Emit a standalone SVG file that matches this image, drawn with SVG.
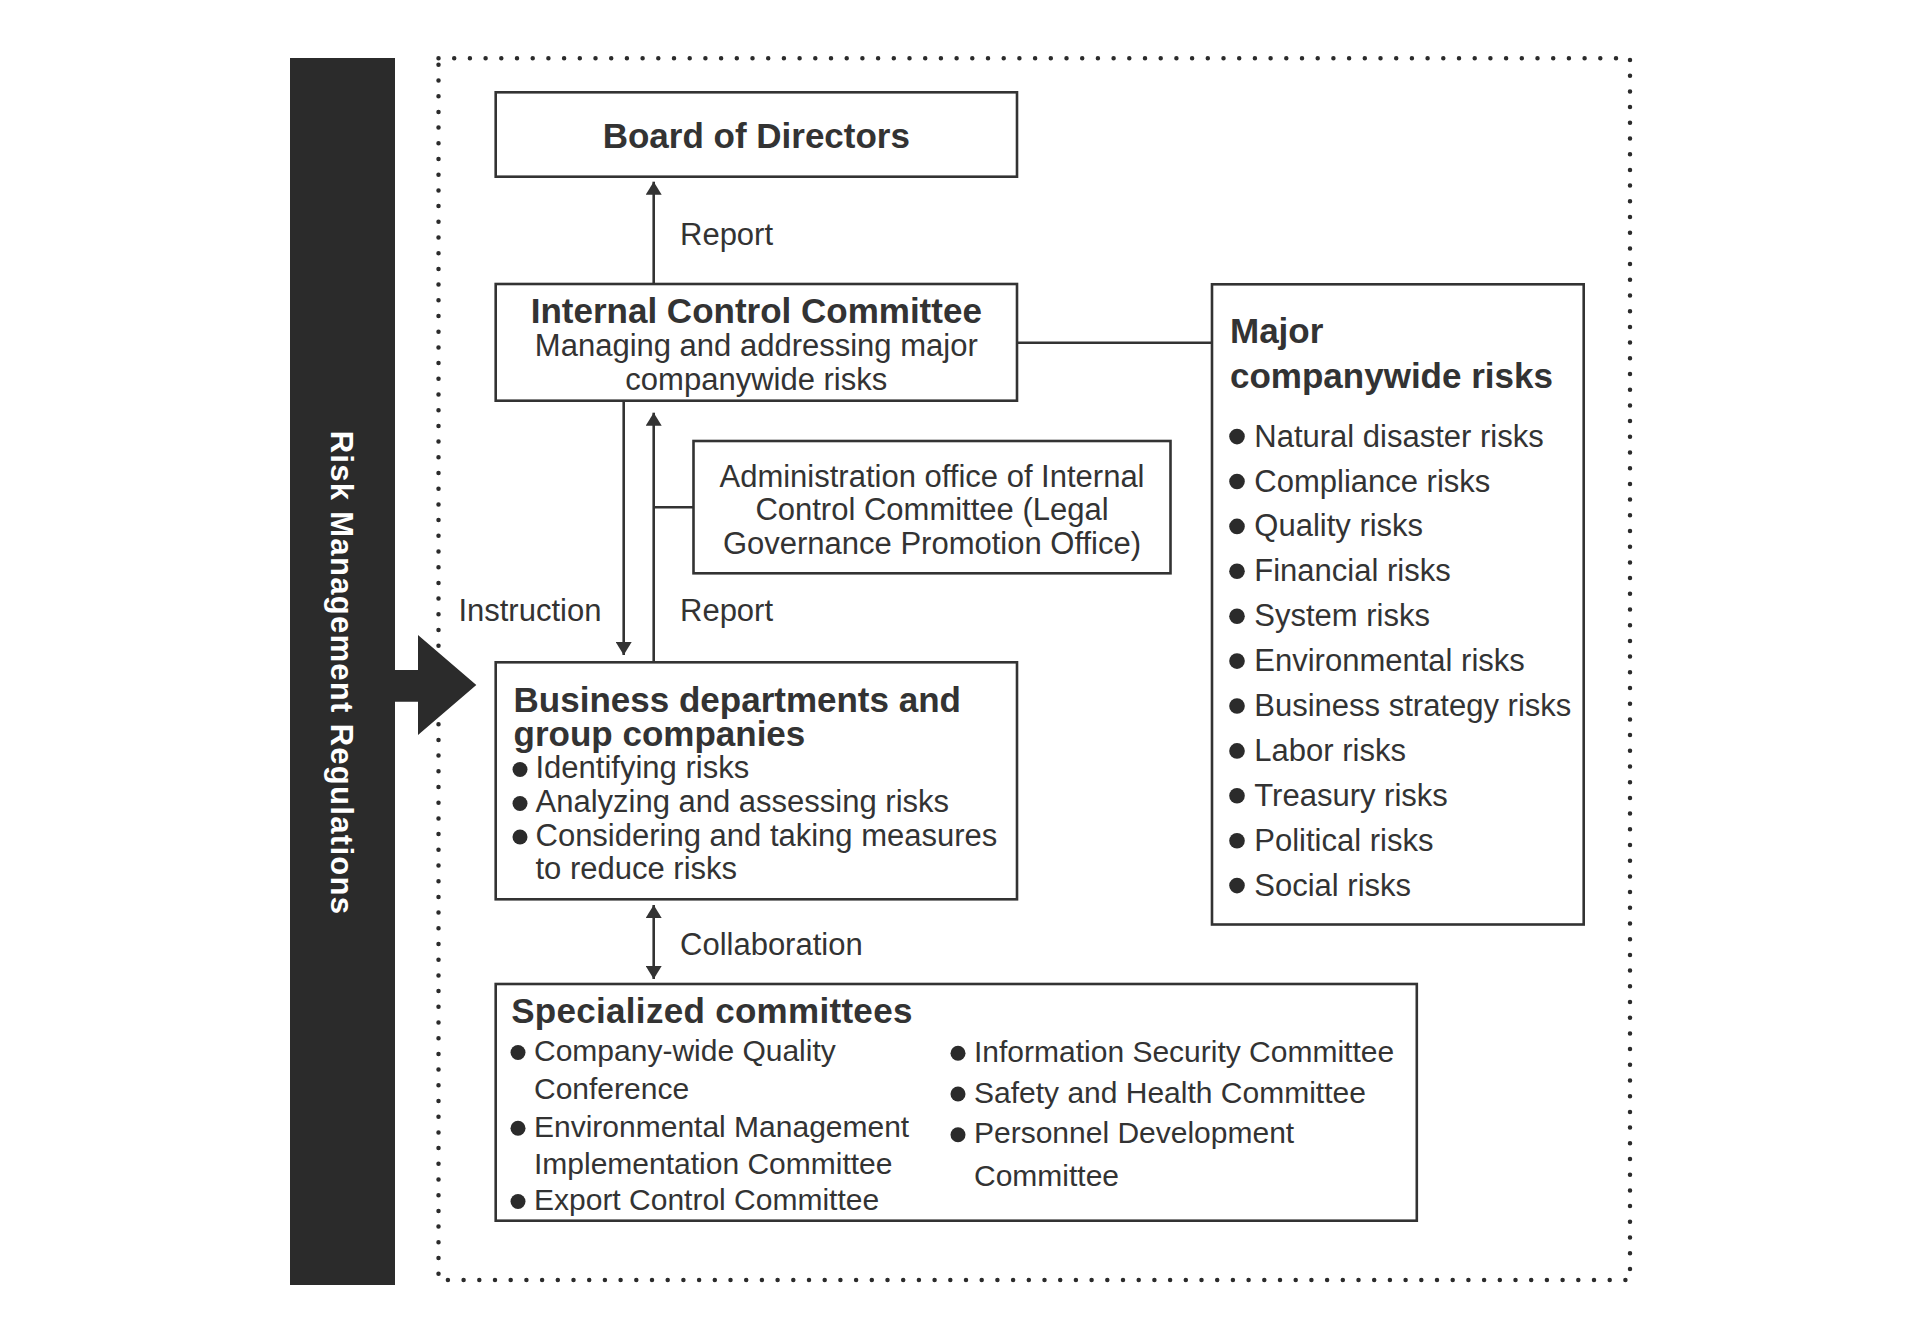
<svg xmlns="http://www.w3.org/2000/svg" width="1920" height="1342" viewBox="0 0 1920 1342">
<defs>
<style>
.box{fill:#fff;stroke:#333;stroke-width:2.6}
.ln{fill:none;stroke:#333;stroke-width:2.6}
.t{font-family:"Liberation Sans",Arial,sans-serif;font-size:31px;fill:#333}
.s{font-size:30px}
.b{font-family:"Liberation Sans",Arial,sans-serif;font-size:35px;font-weight:bold;fill:#333}
.c{text-anchor:middle}
.dot{fill:#2b2b2b}
</style>
<marker id="ah" markerUnits="userSpaceOnUse" markerWidth="14" markerHeight="16" refX="13" refY="8" orient="auto-start-reverse" viewBox="0 0 14 16">
<path d="M0,0 L13,8 L0,16 z" fill="#333"/>
</marker>
</defs>
<rect width="1920" height="1342" fill="#fff"/>
<g id="frame">
<rect x="438.5" y="58.3" width="1191.5" height="1221.7" fill="none" stroke="#2b2b2b" stroke-width="4.5" stroke-linecap="round" stroke-dasharray="0 15.7"/>
</g>
<g id="regulations">
<rect x="290" y="58" width="105" height="1227" fill="#2b2b2b"/>
<polygon points="394,670 418,670 418,635 476.3,685 418,735 418,701.7 394,701.7" fill="#2b2b2b"/>
<text class="b" x="0" y="0" transform="translate(341.6,673) rotate(90)" text-anchor="middle" dominant-baseline="central" style="fill:#fff;font-size:31px;letter-spacing:1.3px">Risk Management Regulations</text>
</g>
<g id="connectors">
<line class="ln" x1="653.7" y1="284" x2="653.7" y2="181.7" marker-end="url(#ah)"/>
<line class="ln" x1="623.7" y1="400.7" x2="623.7" y2="655" marker-end="url(#ah)"/>
<line class="ln" x1="653.7" y1="662.3" x2="653.7" y2="412.7" marker-end="url(#ah)"/>
<line class="ln" x1="653.7" y1="507.3" x2="693.5" y2="507.3"/>
<line class="ln" x1="653.7" y1="905" x2="653.7" y2="979" marker-start="url(#ah)" marker-end="url(#ah)"/>
<line class="ln" x1="1017" y1="342.7" x2="1212" y2="342.7"/>
<text class="t" x="680" y="245">Report</text>
<text class="t" x="458.4" y="620.7">Instruction</text>
<text class="t" x="680" y="620.7">Report</text>
<text class="t" x="680" y="955">Collaboration</text>
</g>
<g id="board">
<rect class="box" x="495.7" y="92.3" width="521.3" height="84.4"/>
<text class="b c" x="756.3" y="147.5">Board of Directors</text>
</g>
<g id="icc">
<rect class="box" x="495.7" y="284" width="521.3" height="116.7"/>
<text class="b c" x="756.3" y="323">Internal Control Committee</text>
<text class="t c" x="756.3" y="356">Managing and addressing major</text>
<text class="t c" x="756.3" y="389.5">companywide risks</text>
</g>
<g id="admin">
<rect class="box" x="693.5" y="441" width="477" height="132.3"/>
<text class="t c" x="932" y="487">Administration office of Internal</text>
<text class="t c" x="932" y="520">Control Committee (Legal</text>
<text class="t c" x="932" y="553.5">Governance Promotion Office)</text>
</g>
<g id="major">
<rect class="box" x="1212" y="284.3" width="371.7" height="640.2"/>
<text class="b" x="1230" y="343">Major</text>
<text class="b" x="1230" y="387.7">companywide risks</text>
<circle class="dot" cx="1237" cy="436.6" r="7.8"/><text class="t" x="1254.3" y="446.6">Natural disaster risks</text>
<circle class="dot" cx="1237" cy="481.5" r="7.8"/><text class="t" x="1254.3" y="491.5">Compliance risks</text>
<circle class="dot" cx="1237" cy="526.4" r="7.8"/><text class="t" x="1254.3" y="536.4">Quality risks</text>
<circle class="dot" cx="1237" cy="571.3" r="7.8"/><text class="t" x="1254.3" y="581.3">Financial risks</text>
<circle class="dot" cx="1237" cy="616.2" r="7.8"/><text class="t" x="1254.3" y="626.2">System risks</text>
<circle class="dot" cx="1237" cy="661.1" r="7.8"/><text class="t" x="1254.3" y="671.1">Environmental risks</text>
<circle class="dot" cx="1237" cy="706" r="7.8"/><text class="t" x="1254.3" y="716">Business strategy risks</text>
<circle class="dot" cx="1237" cy="750.9" r="7.8"/><text class="t" x="1254.3" y="760.9">Labor risks</text>
<circle class="dot" cx="1237" cy="795.8" r="7.8"/><text class="t" x="1254.3" y="805.8">Treasury risks</text>
<circle class="dot" cx="1237" cy="840.7" r="7.8"/><text class="t" x="1254.3" y="850.7">Political risks</text>
<circle class="dot" cx="1237" cy="885.6" r="7.8"/><text class="t" x="1254.3" y="895.6">Social risks</text>
</g>
<g id="business">
<rect class="box" x="495.7" y="662.3" width="521.3" height="237"/>
<text class="b" x="513.6" y="712">Business departments and</text>
<text class="b" x="513.6" y="746">group companies</text>
<circle class="dot" cx="520" cy="769.5" r="7.5"/><text class="t" x="535.5" y="778">Identifying risks</text>
<circle class="dot" cx="520" cy="803.5" r="7.5"/><text class="t" x="535.5" y="812">Analyzing and assessing risks</text>
<circle class="dot" cx="520" cy="837" r="7.5"/><text class="t" x="535.5" y="845.5">Considering and taking measures</text>
<text class="t" x="535.5" y="879">to reduce risks</text>
</g>
<g id="specialized">
<rect class="box" x="495.7" y="984" width="921.1" height="236.7"/>
<text class="b" x="511.2" y="1023" style="letter-spacing:0.3px">Specialized committees</text>
<circle class="dot" cx="518" cy="1052.5" r="7.5"/><text class="t s" x="534" y="1061">Company-wide Quality</text>
<text class="t s" x="534" y="1098.5">Conference</text>
<circle class="dot" cx="518" cy="1128.3" r="7.5"/><text class="t s" x="534" y="1136.8">Environmental Management</text>
<text class="t s" x="534" y="1173.5">Implementation Committee</text>
<circle class="dot" cx="518" cy="1201.5" r="7.5"/><text class="t s" x="534" y="1210">Export Control Committee</text>
<circle class="dot" cx="958" cy="1053.3" r="7.5"/><text class="t s" x="974" y="1061.8">Information Security Committee</text>
<circle class="dot" cx="958" cy="1094" r="7.5"/><text class="t s" x="974" y="1102.5">Safety and Health Committee</text>
<circle class="dot" cx="958" cy="1134.7" r="7.5"/><text class="t s" x="974" y="1143.2">Personnel Development</text>
<text class="t s" x="974" y="1185.8">Committee</text>
</g>
</svg>
